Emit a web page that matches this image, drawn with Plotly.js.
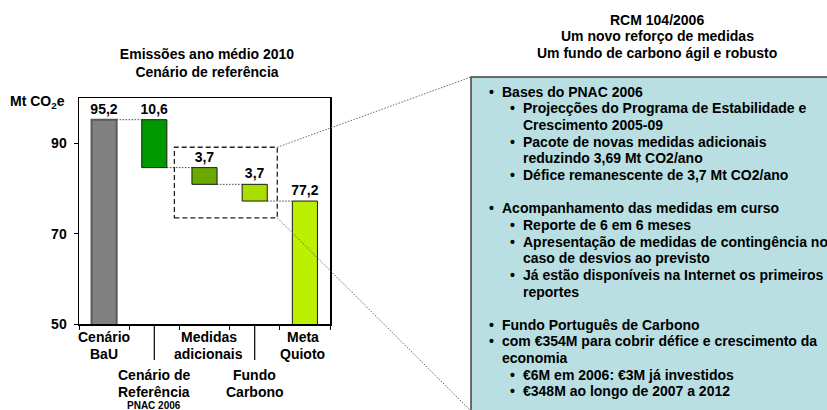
<!DOCTYPE html>
<html>
<head>
<meta charset="utf-8">
<script src="https://cdn.plot.ly/plotly-3.0.1.min.js"></script>
<style>html,body{margin:0;padding:0;background:#fff;}#chart{width:827px;height:410px;}</style>
</head>
<body>
<div id="chart"></div>
<script>
// ---- data ----
const categories = ['Cenário BaU', 'Cenário de Referência PNAC 2006', 'Medidas adicionais', 'Fundo Carbono', 'Meta Quioto'];
const values = [95.2, 10.6, 3.7, 3.7, 77.2];
const measures = ['absolute', 'relative', 'relative', 'relative', 'total'];
const labelLines = [['Cenário', 'BaU'], ['Cenário de', 'Referência', 'PNAC 2006'], ['Medidas', 'adicionais'], ['Fundo', 'Carbono'], ['Meta', 'Quioto']];
const labelRow = [0, 1, 0, 1, 0];
const yTicks = [50, 70, 90];
const chartTitle = ['Emissões ano médio 2010', 'Cenário de referência'];
const panelTitle = ['RCM 104/2006', 'Um novo reforço de medidas', 'Um fundo de carbono ágil e robusto'];
const panelLines = [
  ['b0', 'Bases do PNAC 2006'],
  ['b1', 'Projecções do Programa de Estabilidade e'],
  ['c1', 'Crescimento 2005-09'],
  ['b1', 'Pacote de novas medidas adicionais'],
  ['c1', 'reduzindo 3,69 Mt CO2/ano'],
  ['b1', 'Défice remanescente de 3,7 Mt CO2/ano'],
  null,
  ['b0', 'Acompanhamento das medidas em curso'],
  ['b1', 'Reporte de 6 em 6 meses'],
  ['b1', 'Apresentação de medidas de contingência no'],
  ['c1', 'caso de desvios ao previsto'],
  ['b1', 'Já estão disponíveis na Internet os primeiros'],
  ['c1', 'reportes'],
  null,
  ['b0', 'Fundo Português de Carbono'],
  ['b0', 'com €354M para cobrir défice e crescimento da'],
  ['c0', 'economia'],
  ['b1', '€6M em 2006: €3M já investidos'],
  ['b1', '€348M ao longo de 2007 a 2012']
];

// ---- styles / geometry ----
const FONT = 'Liberation Sans, Arial, sans-serif';
const barColors = ['#808080', '#009900', '#6aaa00', '#aadd00', '#bbf000'];
const barLineColors = ['#595959', '#1a1a1a', '#1a1a1a', '#1a1a1a', '#1a1a1a'];
const barLineWidths = [2, 1, 1, 1, 1];
const W = 827, H = 410, L = 79, R = 330, T = 98, B = 324;
const px = v => (v - L) / (R - L);
const py = v => (B - v) / (B - T);

// waterfall bases
let running = 0;
const bases = [], heights = [], levels = [];
values.forEach((v, i) => {
  if (measures[i] === 'relative') { running -= v; bases.push(running); heights.push(v); }
  else { bases.push(0); heights.push(v); running = v; }
  levels.push(running);
});

const trace = {
  type: 'bar',
  x: categories,
  y: heights,
  base: bases,
  width: 0.5,
  marker: { color: barColors, line: { color: barLineColors, width: barLineWidths } },
  text: values.map(v => v.toFixed(1).replace('.', ',')),
  textposition: 'outside',
  constraintext: 'none',
  cliponaxis: false,
  textfont: { family: FONT, size: 14, color: '#000', weight: 'bold' },
  hoverinfo: 'skip'
};

const shapes = [];
// connectors
for (let i = 0; i < values.length - 1; i++) {
  shapes.push({ type: 'line', xref: 'x', yref: 'y', x0: i + 0.25, x1: i + 0.75, y0: levels[i], y1: levels[i],
    line: { color: '#444', width: 1, dash: '1.5px,1.5px' }, layer: 'below' });
}
// dashed zoom box
const box = { x0: 1.4, x1: 3.45, y0: 73.5, y1: 89.1 };
shapes.push({ type: 'rect', xref: 'x', yref: 'y', x0: box.x0, x1: box.x1, y0: box.y0, y1: box.y1,
  line: { color: '#222', width: 1.3, dash: '5px,3px' }, fillcolor: 'rgba(0,0,0,0)' });
// right panel
const PL = 471, PT = 77;
shapes.push({ type: 'rect', xref: 'paper', yref: 'paper', x0: px(PL), x1: px(W + 20), y0: py(H + 40), y1: py(PT),
  line: { color: '#404040', width: 1.5 }, fillcolor: '#b9dfe2', layer: 'below' });
// dotted lines from the box to the panel
const boxRightPx = L + (box.x1 + 0.5) / 5 * (R - L);
const boxTopPx = B - (box.y1 - 50) / 50 * (B - T);
const boxBotPx = B - (box.y0 - 50) / 50 * (B - T);
shapes.push({ type: 'line', xref: 'paper', yref: 'paper', x0: px(boxRightPx), y0: py(boxTopPx), x1: px(PL), y1: py(PT),
  line: { color: '#666', width: 1, dash: '1.5px,1.5px' } });
shapes.push({ type: 'line', xref: 'paper', yref: 'paper', x0: px(boxRightPx), y0: py(boxBotPx), x1: px(PL - 1), y1: py(410),
  line: { color: '#666', width: 1, dash: '1.5px,1.5px' } });
// separator lines between staggered category labels
[1, 3].forEach(i => {
  shapes.push({ type: 'line', xref: 'paper', yref: 'paper', x0: (i + 0.5) / 5, x1: (i + 0.5) / 5, y0: 0, y1: py(360),
    line: { color: '#000', width: 1.2 } });
});

const annotations = [];
const ann = (o) => annotations.push(Object.assign({ showarrow: false, xref: 'paper', yref: 'paper', yanchor: 'middle',
  font: { family: FONT, size: 14, color: '#000', weight: 'bold' } }, o));

// category labels
const rowStart = [337, 375];
labelLines.forEach((lines, i) => {
  lines.forEach((t, j) => {
    const small = j === 2;
    ann({ xref: 'x', x: i, xanchor: 'center', y: py(rowStart[labelRow[i]] + j * 17 - (small ? 4 : 0)), text: t,
      xshift: i === 2 ? 4 : (i === 4 ? -2 : 0),
      font: { family: FONT, size: small ? 10 : 14, color: '#000', weight: 'bold' } });
  });
});
// y axis unit
ann({ x: px(8), xanchor: 'left', y: py(102), text: 'Mt CO<sub>2</sub>e' });
// panel title
panelTitle.forEach((t, j) => ann({ x: px(657), xanchor: 'center', y: py(20 + j * 16.3), text: t }));
// panel bullets
panelLines.forEach((ln, j) => {
  if (!ln) return;
  const y = py(91.7 + j * 16.65);
  const kind = ln[0][0], lvl = +ln[0][1];
  const bx = lvl === 0 ? 491 : 512;
  const tx = lvl === 0 ? 499.5 : 520.5;
  if (kind === 'b') ann({ x: px(bx), xanchor: 'center', y: y, text: '•' });
  ann({ x: px(tx), xanchor: 'left', y: y, text: ln[1] });
});

const layout = {
  width: W, height: H,
  margin: { l: L, r: W - R, t: T, b: H - B, pad: 0 },
  paper_bgcolor: '#fff', plot_bgcolor: '#fff',
  showlegend: false,
  title: { text: chartTitle.join('<br>'), xref: 'paper', x: px(207), xanchor: 'center', yref: 'container', y: 1 - 59 / H, yanchor: 'middle',
    font: { family: FONT, size: 14, color: '#000', weight: 'bold' } },
  xaxis: { type: 'category', categoryarray: categories, range: [-0.5, 4.5], showticklabels: false, ticks: 'outside', tickson: 'boundaries',
    ticklen: 4, tickcolor: '#000', tickwidth: 1, showline: true, linecolor: '#000', linewidth: 1.5, mirror: true, showgrid: false, zeroline: false, fixedrange: true },
  yaxis: { range: [50, 100], tickvals: yTicks, ticktext: yTicks.map(String), ticks: 'outside', ticklen: 4, tickcolor: '#000', tickwidth: 1,
    ticklabelstandoff: 4, showline: true, linecolor: '#000', linewidth: 1.5, mirror: true, showgrid: false, zeroline: false,
    tickfont: { family: FONT, size: 14, color: '#000', weight: 'bold' }, fixedrange: true },
  shapes: shapes,
  annotations: annotations
};

Plotly.newPlot('chart', [trace], layout, { displayModeBar: false, staticPlot: true });
</script>
</body>
</html>
